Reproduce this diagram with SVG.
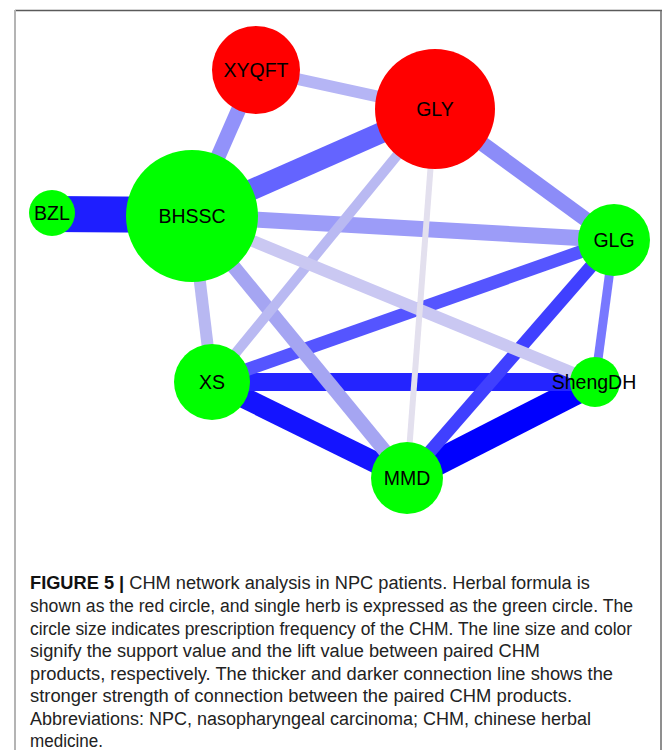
<svg xmlns="http://www.w3.org/2000/svg" width="665" height="750" viewBox="0 0 665 750">
  <style>
    .edge { fill: none; stroke-linecap: butt; }
    .formula { fill: #ff0000; }
    .herb { fill: #00ff00; }
    .label { font-family: "Liberation Sans", Arial, sans-serif; font-size: 19.5px; fill: #000; text-anchor: middle; }
    .cap { font-family: "Liberation Sans", Arial, sans-serif; font-size: 18px; fill: #222; }
    .cap .b { font-weight: bold; fill: #111; }
  </style>

  <!-- page frame -->
  <rect x="0" y="0" width="665" height="750" fill="#ffffff"/>
  <line x1="15" y1="10.5" x2="662" y2="10.5" stroke="#5a5a5a" stroke-width="1.5"/>
  <line x1="15" y1="10" x2="15" y2="750" stroke="#b4b4b4" stroke-width="2"/>
  <line x1="661" y1="10" x2="661" y2="750" stroke="#6a6a6a" stroke-width="1.5"/>

  <!-- connectors: darker, stronger pairs underneath, lighter pairs on top -->
  <g id="edges" class="edge">
    <line x1="52" y1="214" x2="192" y2="215" stroke="#1e1eff" stroke-width="36"/>
    <line x1="407" y1="478" x2="595" y2="382" stroke="#0000ff" stroke-width="26"/>
    <line x1="212" y1="382" x2="407" y2="478" stroke="#1414ff" stroke-width="21"/>
    <line x1="212" y1="382" x2="595" y2="382" stroke="#2424ff" stroke-width="18"/>
    <line x1="614" y1="240" x2="407" y2="478" stroke="#4040ff" stroke-width="13"/>
    <line x1="614" y1="240" x2="212" y2="382" stroke="#5555ff" stroke-width="13"/>
    <line x1="435" y1="109" x2="192" y2="216" stroke="#6464ff" stroke-width="21"/>
    <line x1="614" y1="240" x2="595" y2="382" stroke="#7878ff" stroke-width="9"/>
    <line x1="435" y1="109" x2="614" y2="240" stroke="#8c8cf8" stroke-width="15"/>
    <line x1="256" y1="70" x2="192" y2="216" stroke="#9292fa" stroke-width="15"/>
    <line x1="192" y1="216" x2="614" y2="240" stroke="#9c9cf8" stroke-width="16"/>
    <line x1="192" y1="216" x2="407" y2="478" stroke="#a5a5f2" stroke-width="14"/>
    <line x1="256" y1="70" x2="435" y2="109" stroke="#b5b5f5" stroke-width="12"/>
    <line x1="192" y1="216" x2="212" y2="382" stroke="#b8b8f2" stroke-width="12"/>
    <line x1="435" y1="109" x2="212" y2="382" stroke="#b9b9f2" stroke-width="10"/>
    <line x1="192" y1="216" x2="595" y2="382" stroke="#cac8f2" stroke-width="12"/>
    <line x1="435" y1="109" x2="407" y2="478" stroke="#e3e0ee" stroke-width="6"/>
  </g>

  <!-- nodes: red = herbal formula, green = single herb -->
  <g id="XYQFT">
    <circle class="formula" cx="256" cy="70" r="44"/>
    <text class="label" x="256" y="77">XYQFT</text>
  </g>
  <g id="GLY">
    <circle class="formula" cx="435" cy="109" r="60"/>
    <text class="label" x="435" y="116">GLY</text>
  </g>
  <g id="BHSSC">
    <circle class="herb" cx="192" cy="216" r="66"/>
    <text class="label" x="192" y="223">BHSSC</text>
  </g>
  <g id="BZL">
    <circle class="herb" cx="52" cy="213" r="23"/>
    <text class="label" x="52" y="220">BZL</text>
  </g>
  <g id="GLG">
    <circle class="herb" cx="614" cy="240" r="36"/>
    <text class="label" x="614" y="247">GLG</text>
  </g>
  <g id="XS">
    <circle class="herb" cx="212" cy="382" r="38"/>
    <text class="label" x="212" y="389">XS</text>
  </g>
  <g id="ShengDH">
    <circle class="herb" cx="595" cy="382" r="25"/>
    <text class="label" x="594" y="389">ShengDH</text>
  </g>
  <g id="MMD">
    <circle class="herb" cx="407" cy="478" r="36"/>
    <text class="label" x="407" y="485">MMD</text>
  </g>

  <!-- caption -->
  <g id="caption" class="cap">
    <text x="30" y="589" textLength="560" lengthAdjust="spacingAndGlyphs"><tspan class="b">FIGURE 5 |</tspan> CHM network analysis in NPC patients. Herbal formula is</text>
    <text x="30" y="612" textLength="603" lengthAdjust="spacingAndGlyphs">shown as the red circle, and single herb is expressed as the green circle. The</text>
    <text x="30" y="634.5" textLength="602" lengthAdjust="spacingAndGlyphs">circle size indicates prescription frequency of the CHM. The line size and color</text>
    <text x="30" y="657" textLength="510" lengthAdjust="spacingAndGlyphs">signify the support value and the lift value between paired CHM</text>
    <text x="30" y="679.5" textLength="583" lengthAdjust="spacingAndGlyphs">products, respectively. The thicker and darker connection line shows the</text>
    <text x="30" y="702" textLength="542" lengthAdjust="spacingAndGlyphs">stronger strength of connection between the paired CHM products.</text>
    <text x="30" y="724.5" textLength="561" lengthAdjust="spacingAndGlyphs">Abbreviations: NPC, nasopharyngeal carcinoma; CHM, chinese herbal</text>
    <text x="30" y="747" textLength="73" lengthAdjust="spacingAndGlyphs">medicine.</text>
  </g>
</svg>
